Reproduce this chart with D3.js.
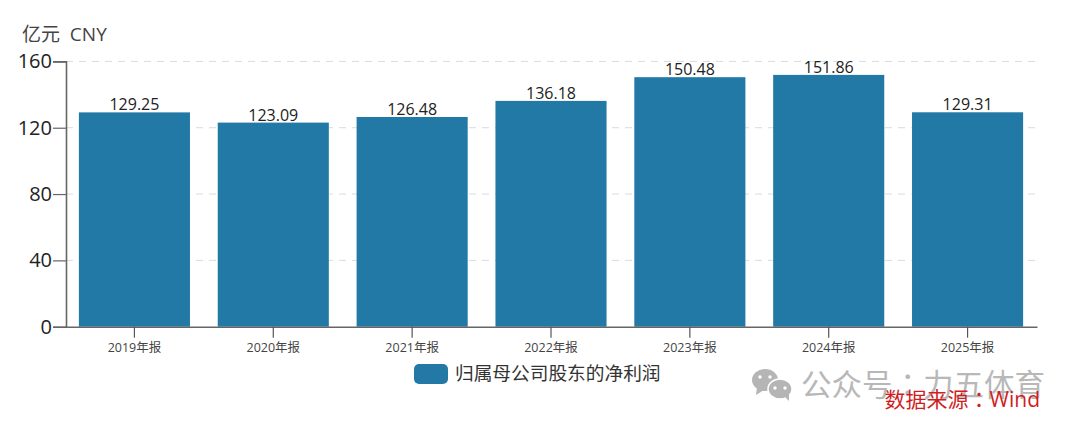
<!DOCTYPE html>
<html><head><meta charset="utf-8">
<script src="https://cdn.jsdelivr.net/npm/d3@7/dist/d3.min.js"></script>
<style>
html,body{margin:0;padding:0;background:#fff}
svg{display:block}
text{font-family:"Open Sans","Noto Sans CJK SC",sans-serif}
</style></head><body>
<svg id="c" width="1080" height="429"></svg>
<script>
const categories=["2019年报","2020年报","2021年报","2022年报","2023年报","2024年报","2025年报"];
const netProfit=[129.25,123.09,126.48,136.18,150.48,151.86,129.31];
const yTicks=[0,40,80,120,160];
const seriesName="归属母公司股东的净利润";
const unitLabel="亿元  CNY";
const sourceParts=["数据来源","：","Wind"];
const watermarkParts=["公众号","：","力五体育"];

const svg=d3.select("#c");
const x=d3.scaleBand().domain(categories).range([65,1037]).paddingInner(0.2).paddingOuter(0.1);
const y=d3.scaleLinear().domain([0,160]).range([326.7,61.4]);
const blue="#2279a6";

svg.append("g").selectAll("line").data(yTicks.filter(d=>d>0)).join("line")
 .attr("x1",66).attr("x2",1037).attr("y1",d=>y(d)).attr("y2",d=>y(d))
 .attr("stroke","#d8dcdf").attr("stroke-dasharray","7 6");

svg.append("g").selectAll("rect").data(netProfit).join("rect")
 .attr("x",(d,i)=>x(categories[i])).attr("width",x.bandwidth())
 .attr("y",d=>y(d)).attr("height",d=>y(0)-y(d)).attr("fill",blue);

svg.append("g").selectAll("text").data(netProfit).join("text")
 .attr("x",(d,i)=>x(categories[i])+x.bandwidth()/2).attr("y",d=>y(d)-2)
 .attr("text-anchor","middle").attr("font-size",16).attr("fill","#222")
 .text(d=>d.toFixed(2));

const yAxis=d3.axisLeft(y).tickValues(yTicks).tickSize(13).tickPadding(1);
const gy=svg.append("g").attr("transform","translate(66,0)").call(yAxis);
gy.select(".domain").attr("stroke","#666").attr("stroke-width",1.6);
gy.selectAll(".tick line").attr("stroke","#666").attr("stroke-width",1.2);
gy.selectAll(".tick text").attr("font-size",20).attr("fill","#222")
 .attr("font-family",'"Open Sans",sans-serif');

const xAxis=d3.axisBottom(x).tickSize(11).tickPadding(5).tickSizeOuter(0);
const gx=svg.append("g").attr("transform","translate(0,326.7)").call(xAxis);
gx.select(".domain").attr("stroke","#666").attr("stroke-width",1.6);
gx.selectAll(".tick line").attr("stroke","#555").attr("stroke-width",1.2);
gx.selectAll(".tick text").attr("font-size",12.5).attr("fill","#444");

svg.append("text").attr("x",22).attr("y",41).attr("font-size",19).attr("fill","#444")
 .style("white-space","pre").text(unitLabel);

svg.append("rect").attr("x",414).attr("y",364).attr("width",34).attr("height",20).attr("rx",5).attr("fill",blue);
svg.append("text").attr("x",455).attr("y",380).attr("font-size",18.7).attr("fill","#333").text(seriesName);

const wx=svg.append("g").attr("fill","#b5b5b5");
wx.append("ellipse").attr("cx",765).attr("cy",380).attr("rx",13).attr("ry",11);
wx.append("path").attr("d","M757 387l-1 8 8-5z");
wx.append("ellipse").attr("cx",780).attr("cy",389).attr("rx",12).attr("ry",10).attr("stroke","#fff").attr("stroke-width",1.5);
wx.append("path").attr("d","M784 396l5 5 0-8z");
const wd=svg.append("g").attr("fill","#fff");
[[760,377],[770,377],[775,388],[785,388]].forEach(p=>wd.append("circle").attr("cx",p[0]).attr("cy",p[1]).attr("r",1.7));

function parts(t,a){a.forEach((s,i)=>t.append("tspan").style("font-family",i==1?'"Noto Sans CJK TC"':null).text(s));}
const wm=svg.append("text").attr("x",801).attr("y",396).attr("font-size",30.5).attr("fill","#b8b8b8");
parts(wm,watermarkParts);
const src=svg.append("text").attr("x",1040).attr("y",407).attr("text-anchor","end").attr("font-size",21).attr("fill","#cf1f25");
parts(src,sourceParts);
</script>
</body></html>
